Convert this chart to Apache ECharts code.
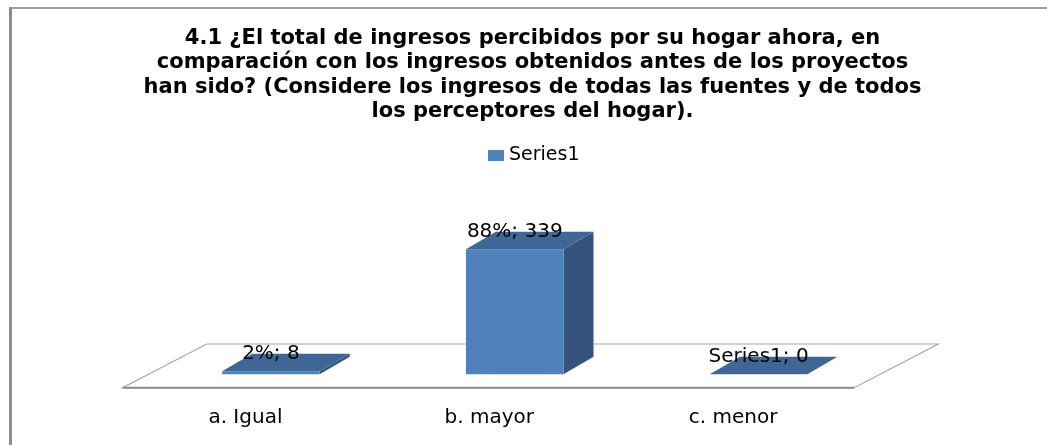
<!DOCTYPE html>
<html>
<head>
<meta charset="utf-8">
<title>Ingresos del hogar</title>
<script src="https://cdn.jsdelivr.net/npm/echarts@6/dist/echarts.min.js"></script>
<style>
  html, body { margin: 0; padding: 0; background: #fff; }
  #myChart { width: 1047px; height: 445px; }
</style>
</head>
<body>
<div id="myChart"></div>
<script>
// datos
const categories = ["a. Igual", "b. mayor", "c. menor"];
const values = [8, 339, 0];
const barLabels = ["2%; 8", "88%; 339", "Series1; 0"];
const seriesName = "Series1";

const titleText =
  "4.1 ¿El total de ingresos percibidos por su hogar ahora, en\n" +
  "comparación con los ingresos obtenidos antes de los proyectos\n" +
  "han sido? (Considere los ingresos de todas las fuentes y de todos\n" +
  "los perceptores del hogar).";

// colores tipo excel 3D
const frontColor = "#4F81BD";
const topColor = "#3E6796";
const sideColor = "#34547D";
const depthX = 30, depthY = 17.5;

let myChart = echarts.init(document.getElementById("myChart"));

function renderFloor(params, api) {
  const band = api.size([1, 0])[0];
  const left = api.coord([0, 0]);
  const right = api.coord([categories.length - 1, 0]);
  const x0 = left[0] - band / 2;
  const x1 = right[0] + band / 2;
  const y = left[1];
  // piso: frente y fondo alrededor de la fila de barras
  const pts = [
    [x0 - 26.3, y + 13.4],
    [x1 - 26.3, y + 13.4],
    [x1 + 57.7, y - 30.3],
    [x0 + 57.7, y - 30.3]
  ];
  return {
    type: "group",
    children: [
      {
        type: "polygon",
        shape: { points: pts },
        style: { fill: "#fff", stroke: "#a6a6a6", lineWidth: 1.2 },
        silent: true
      },
      {
        type: "line",
        shape: { x1: pts[0][0], y1: pts[0][1], x2: pts[1][0], y2: pts[1][1] },
        style: { stroke: "#8a8a8a", lineWidth: 2 },
        silent: true
      }
    ]
  };
}

function renderBar(params, api) {
  const idx = api.value(0);
  const v = api.value(1);
  const base = api.coord([idx, 0]);
  const top = api.coord([idx, v]);
  const bw = api.size([1, 0])[0] * 0.4;
  const xa = base[0] - bw / 2;
  const xb = base[0] + bw / 2;
  const yb = base[1];
  const yt = top[1];
  return {
    type: "group",
    children: [
      {
        type: "polygon",
        shape: { points: [[xb, yt], [xb + depthX, yt - depthY], [xb + depthX, yb - depthY], [xb, yb]] },
        style: { fill: sideColor }
      },
      {
        type: "rect",
        shape: { x: xa, y: yt, width: bw, height: yb - yt },
        style: { fill: frontColor }
      },
      {
        type: "polygon",
        shape: { points: [[xa, yt], [xb, yt], [xb + depthX, yt - depthY], [xa + depthX, yt - depthY]] },
        style: { fill: topColor }
      },
      {
        type: "text",
        x: base[0],
        y: yt - depthY,
        style: {
          text: barLabels[params.dataIndex],
          fontFamily: "DejaVu Sans",
          fontSize: 20,
          fill: "#000",
          align: "center",
          verticalAlign: "middle"
        }
      }
    ]
  };
}

myChart.setOption({
  backgroundColor: "#fff",
  animation: false,
  title: {
    text: titleText,
    left: 527.5,
    textAlign: "center",
    top: 21,
    textStyle: {
      fontFamily: "DejaVu Sans",
      fontWeight: "bold",
      fontSize: 21,
      lineHeight: 24.5,
      color: "#000"
    }
  },
  legend: {
    data: [seriesName],
    left: 483,
    top: 141,
    icon: "rect",
    itemWidth: 16,
    itemHeight: 11,
    itemGap: 6,
    textStyle: { fontFamily: "DejaVu Sans", fontSize: 19, color: "#000" }
  },
  grid: { left: 149, right: 166.5, top: 226.8, bottom: 70.7 },
  xAxis: {
    type: "category",
    data: categories,
    axisLine: { show: false },
    axisTick: { show: false },
    axisLabel: {
      margin: 33,
      padding: [0, 51, 0, 0],
      fontFamily: "DejaVu Sans",
      fontSize: 20,
      color: "#000"
    }
  },
  yAxis: { type: "value", min: 0, max: 400, show: false },
  graphic: [
    { type: "rect", shape: { x: 9, y: 7, width: 1038, height: 2 }, style: { fill: "#a0a0a0" } },
    { type: "rect", shape: { x: 9, y: 7, width: 3, height: 438 }, style: { fill: "#8c8c8c" } }
  ],
  series: [
    {
      type: "custom",
      name: "floor",
      z: 1,
      renderItem: renderFloor,
      data: [[0, 0]]
    },
    {
      type: "custom",
      name: seriesName,
      z: 2,
      itemStyle: { color: frontColor },
      renderItem: renderBar,
      encode: { x: 0, y: 1 },
      data: values.map((v, i) => [i, v])
    }
  ]
});
</script>
</body>
</html>
